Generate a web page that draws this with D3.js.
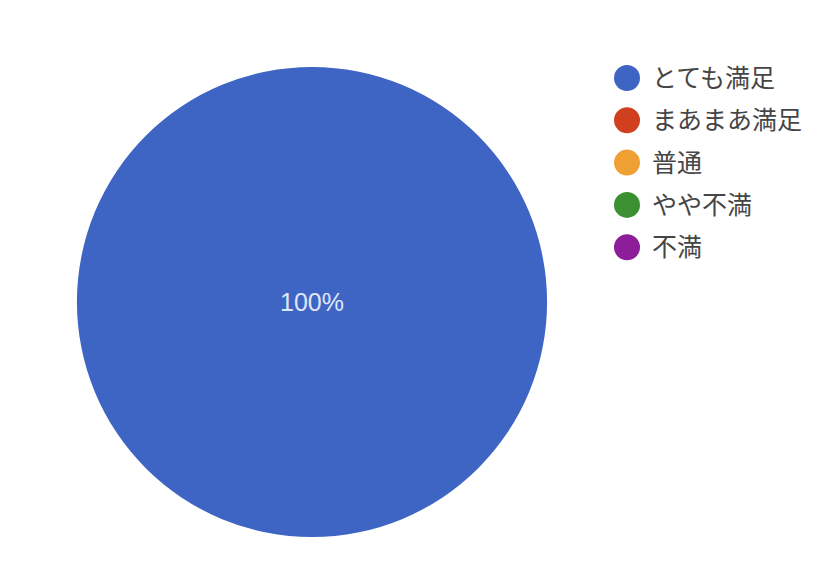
<!DOCTYPE html>
<html>
  <head>
    <meta charset="utf-8">
    <title>満足度</title>
    <style>
      body { margin: 0; background: #fff; }
    </style>
  </head>
  <body>
    <div><svg id='piechart'/></div>
  </body>
  <script type="text/javascript" src="https://cdn.jsdelivr.net/npm/d3@7"></script>
  <script type="text/javascript">
    // data
    const categories = ['とても満足', 'まあまあ満足', '普通', 'やや不満', '不満'];
    const counts = [1, 0, 0, 0, 0];
    const colors = ['#3f65c4', '#d0401f', '#efa032', '#3b9132', '#8e1d9a'];

    const oriData = categories.map((c, i) => ({ x: c, y: counts[i] }));
    const [width, height] = [826, 574];
    var svg = d3.select('#piechart')
      .attr('width', width)
      .attr('height', height)

    var colorScale = d3.scaleOrdinal()
      .domain(categories)
      .range(colors);

    // pie
    var radius = 235
    var cx = 312, cy = 302
    var arc = d3.arc().innerRadius(0).outerRadius(radius)

    var drawData = d3.pie()
      .value(d => d.y)
      .sort(null)(oriData)

    var sum = d3.sum(oriData, d => d.y);

    var g = svg.append('g')
      .attr('transform', 'translate(' + cx + ',' + cy + ')')

    g.selectAll('path')
      .data(drawData.filter(d => d.data.y > 0))
      .enter()
      .append('path')
      .attr('fill', d => colorScale(d.data.x))
      .attr('d', arc)

    //文字層
    g.selectAll('text')
      .data(drawData.filter(d => d.data.y > 0))
      .enter()
      .append('text')
      .attr('transform', function(d) {
        // full circle: put it in the centre
        return (d.endAngle - d.startAngle) >= Math.PI * 2 - 1e-6
          ? 'translate(0,0)'
          : 'translate(' + d3.arc().innerRadius(0).outerRadius(radius * 1.3).centroid(d) + ')'
      })
      .attr('text-anchor', 'middle')
      .attr('dy', '0.35em')
      .attr('fill', '#dfe6f7')
      .style('font-family', 'Arial, "Liberation Sans", sans-serif')
      .style('font-size', '25px')
      .text(d => Math.round(d.data.y / sum * 100) + '%')

    //凡例
    var legend = svg.append('g')
      .attr('transform', 'translate(627, 78)')
      .selectAll('g')
      .data(oriData)
      .enter()
      .append('g')
      .attr('transform', (d, i) => 'translate(0,' + i * 42.3 + ')');

    legend.append('circle')
      .attr('r', 13)
      .attr('fill', d => colorScale(d.x));

    legend.append('text')
      .text(d => d.x)
      .attr('x', 25)
      .attr('dy', '0.36em')
      .attr('fill', '#454545')
      .style('font-family', '"Noto Sans CJK JP", sans-serif')
      .style('font-size', '25px')
  </script>
</html>
